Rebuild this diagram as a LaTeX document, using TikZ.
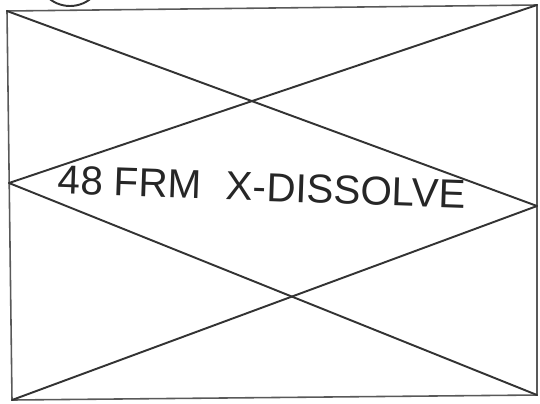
\documentclass[tikz,border=0pt]{standalone}
\usepackage{fontspec}
\setmainfont{Liberation Sans}
\usepackage{tikz}
\usetikzlibrary{calc}
\tikzset{
    pencil/.style={draw=black!80,line width=1.1pt,line cap=round,line join=round},
    frame/.style={draw=black!65,line width=0.9pt},
    note/.style={font=\fontsize{23}{25}\selectfont,inner sep=0pt,text=black!85}
}

\begin{document}
\begin{tikzpicture}[x=0.02cm,y=-0.02cm]
    \useasboundingbox (0,0) rectangle (540,403);
    % frame corners
    \coordinate (tl) at (7,11);
    \coordinate (tr) at (537,5);
    \coordinate (bl) at (12,400);
    \coordinate (br) at (537,395);
    \coordinate (ml) at (9,183);
    \coordinate (mr) at (537,206);
    \draw[frame] (tl) -- (tr) -- (br) -- (bl) -- cycle;
    % upper cross
    \draw[pencil] (tl) -- (mr);
    \draw[pencil] (tr) -- (ml);
    % lower cross
    \draw[pencil] (ml) -- (br);
    \draw[pencil] (mr) -- (bl);
    % circle cut by top edge
    \begin{scope}
        \clip (0,0) rectangle (540,403);
        \draw[pencil] (70,-27) circle (33);
    \end{scope}
    \node[note,rotate=-2] (label) at (262,187) {48 FRM\hspace{0.6em}X-DISSOLVE};
\end{tikzpicture}
\end{document}
